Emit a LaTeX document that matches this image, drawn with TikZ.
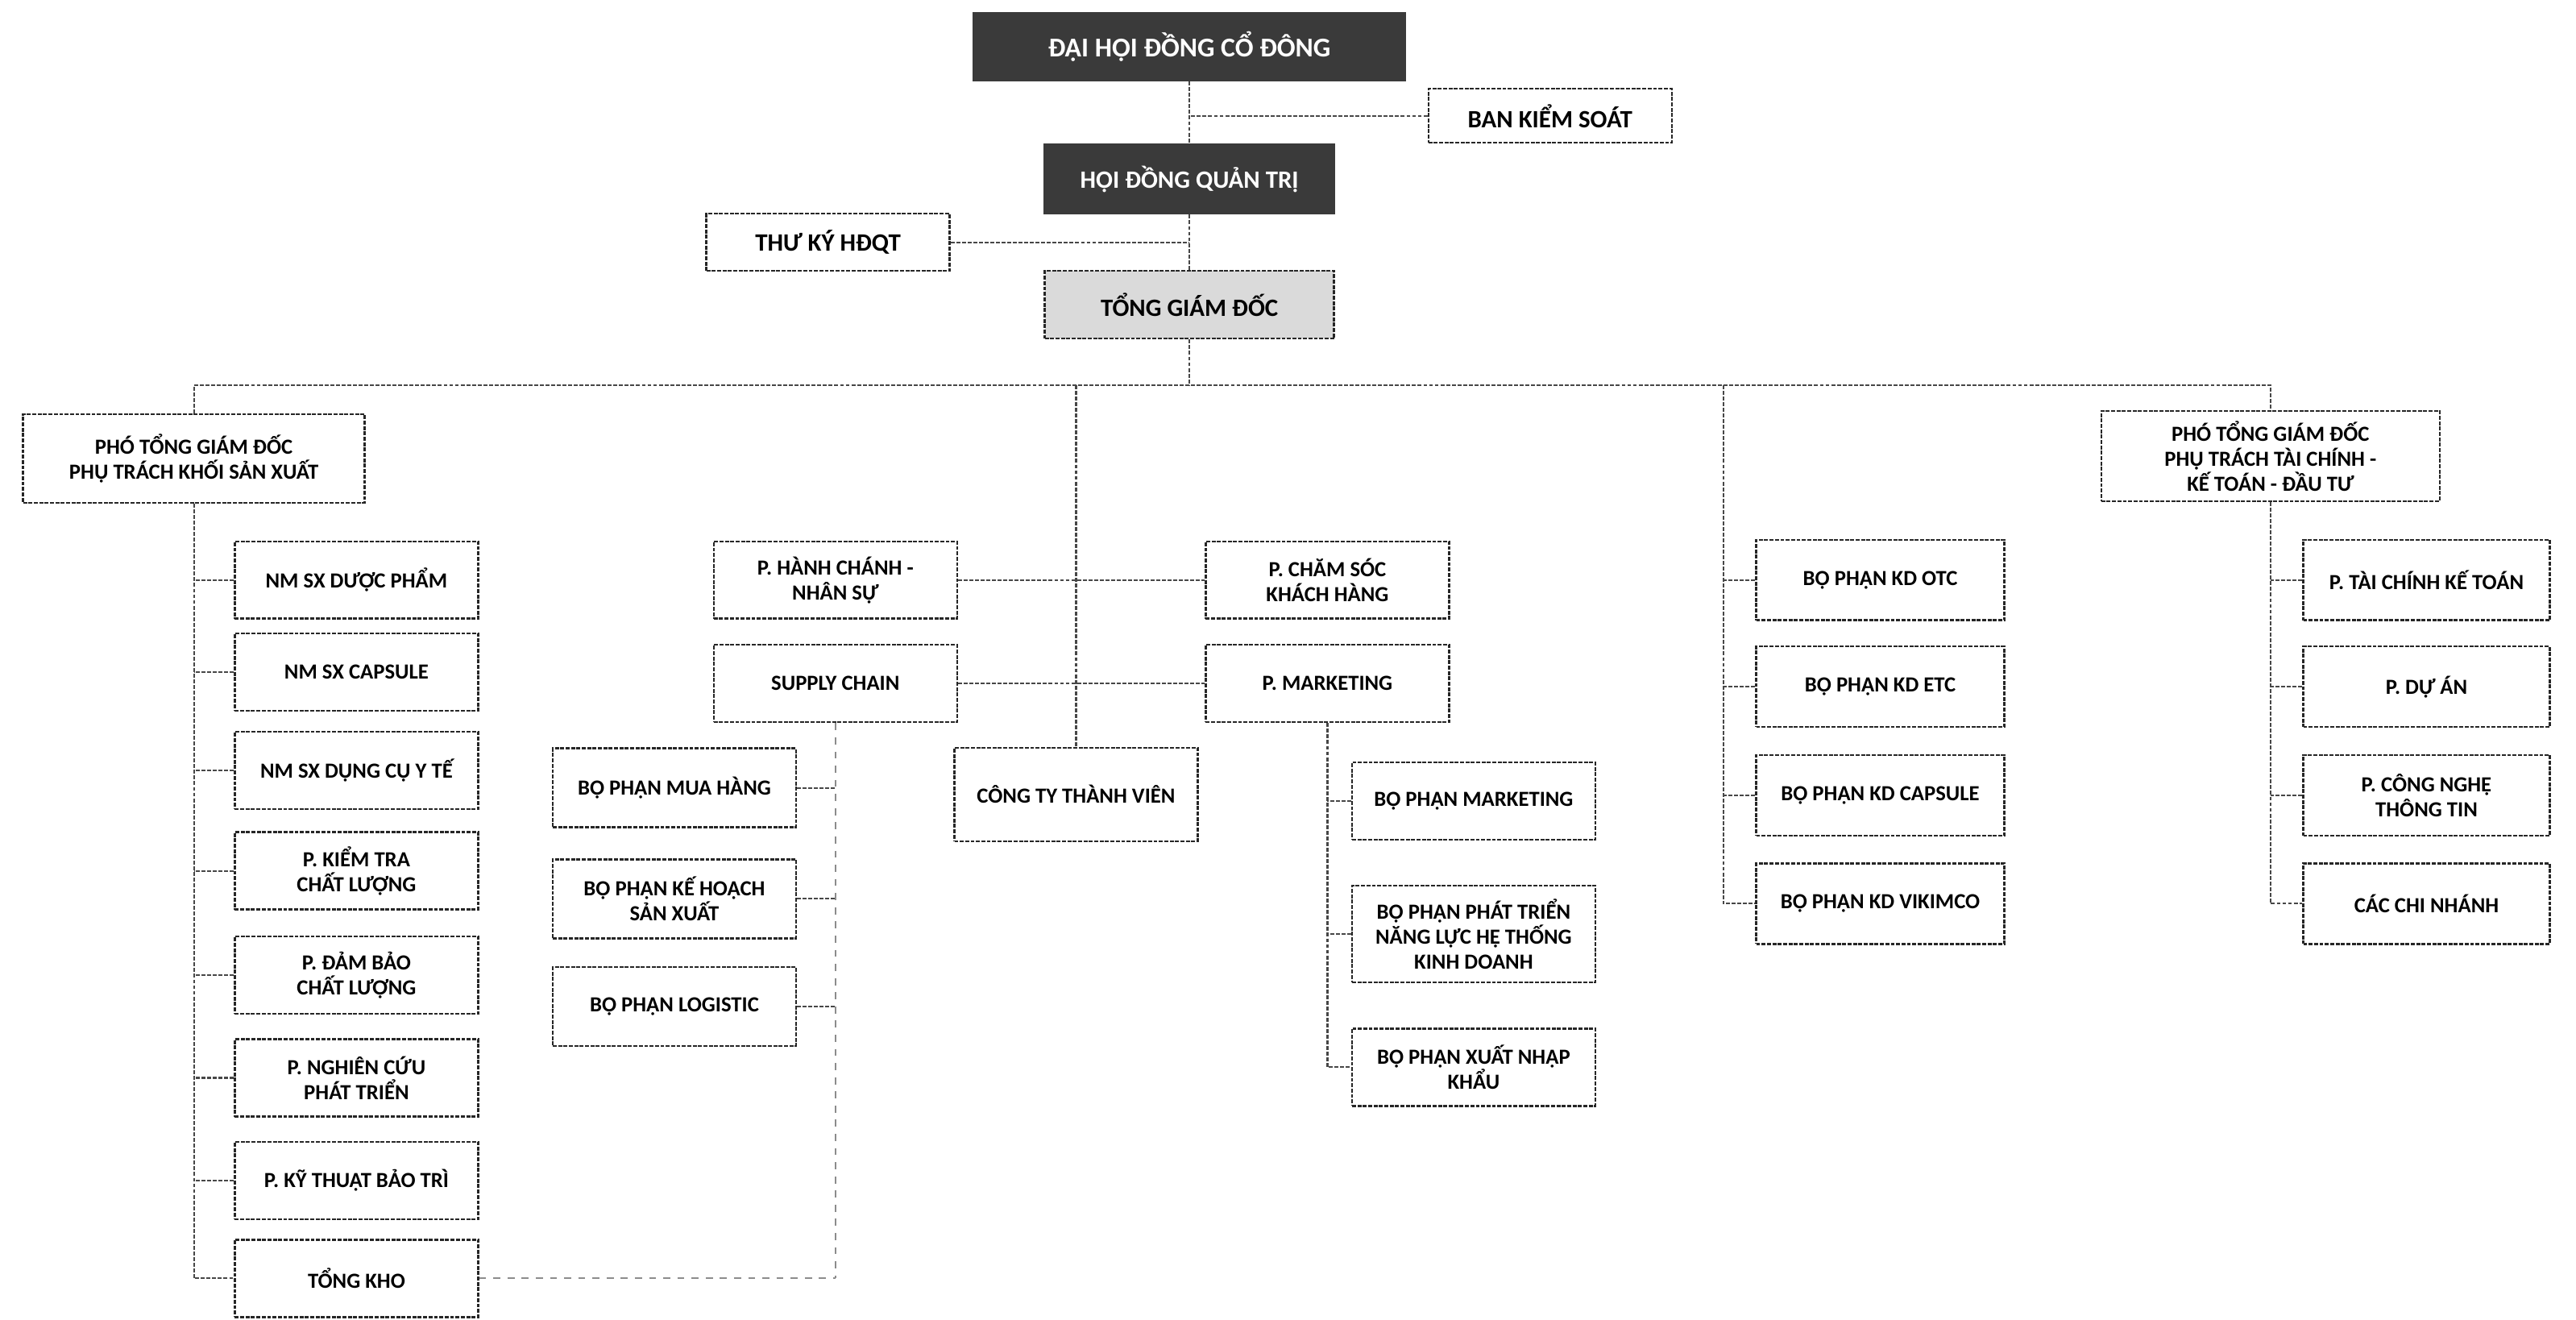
\documentclass[tikz,border=0pt]{standalone}
\usepackage{fontspec}
\setmainfont{Carlito}
\usepackage{tikz}
\usetikzlibrary{calc, positioning}
\definecolor{boardgray}{RGB}{58, 58, 58}
\definecolor{ceogray}{RGB}{218, 218, 218}
\newcommand{\unitfont}{\bfseries\fontsize{7.6}{8.8}\selectfont}
\newcommand{\headfont}{\bfseries\fontsize{8.8}{10}\selectfont}

\begin{document}
\begin{tikzpicture}[
    x=0.2039mm, y=-0.2039mm,
    box/.style={draw=black!85, line width=0.7pt, dash pattern=on 1.4pt off 0.5pt, fill=white,
        minimum width=30.2mm, minimum height=9.6mm, align=center, inner sep=1pt, font=\unitfont},
    headbox/.style={box, font=\headfont},
    darkbox/.style={headbox, draw=boardgray, solid, fill=boardgray, text=white},
    link/.style={draw=black!72, line width=0.6pt, dash pattern=on 1.4pt off 0.6pt},
    faintlink/.style={draw=black!45, line width=0.6pt, dash pattern=on 2.5pt off 2.5pt}
]
    \useasboundingbox (0,0) rectangle (1568,803);

    % top of the chart
    \node[darkbox, minimum width=53.6mm, minimum height=8.4mm, font=\bfseries\fontsize{9.6}{11}\selectfont] (dhdcd) at (724, 28.5) {ĐẠI HỘI ĐỒNG CỔ ĐÔNG};
    \node[headbox, minimum height=6.7mm] (bks) at (943.5, 70.5) {BAN KIỂM SOÁT};
    \node[darkbox, minimum width=35.9mm, minimum height=8.6mm] (hdqt) at (724, 109) {HỘI ĐỒNG QUẢN TRỊ};
    \node[headbox, minimum height=7.1mm] (tk) at (504, 147.5) {THƯ KÝ HĐQT};
    \node[headbox, fill=ceogray, minimum width=35.9mm, minimum height=8.4mm] (tgd) at (724, 185.5) {TỔNG GIÁM ĐỐC};

    \draw[link] (dhdcd) -- (hdqt);
    \draw[link] (hdqt) -- (tgd);
    \draw[link] (bks.west) -- (bks.west -| dhdcd.south);
    \draw[link] (tk.east) -- (tk.east -| hdqt.south);

    % deputies
    \node[box, minimum width=42.4mm, minimum height=11mm] (ptgdsx) at (118, 279) {PHÓ TỔNG GIÁM ĐỐC\\PHỤ TRÁCH KHỐI SẢN XUẤT};
    \node[box, minimum width=42mm, minimum height=11.2mm] (ptgdtc) at (1382, 277.5) {PHÓ TỔNG GIÁM ĐỐC\\PHỤ TRÁCH TÀI CHÍNH -\\KẾ TOÁN - ĐẦU TƯ};

    \coordinate (busl) at (118, 234.5);
    \coordinate (busr) at (1382, 234.5);
    \coordinate (kdtop) at (1049, 234.5);
    \draw[link] (ptgdsx.north) -- (busl) -- (busr) -- (ptgdtc.north);
    \draw[link] (tgd.south) -- (tgd.south |- busl);

    % production block
    \node[box] (sx1) at (217, 353) {NM SX DƯỢC PHẨM};
    \node[box] (sx2) at (217, 409) {NM SX CAPSULE};
    \node[box] (sx3) at (217, 469) {NM SX DỤNG CỤ Y TẾ};
    \node[box] (sx4) at (217, 530) {P. KIỂM TRA\\CHẤT LƯỢNG};
    \node[box] (sx5) at (217, 593.5) {P. ĐẢM BẢO\\CHẤT LƯỢNG};
    \node[box] (sx6) at (217, 656) {P. NGHIÊN CỨU\\PHÁT TRIỂN};
    \node[box] (sx7) at (217, 718.5) {P. KỸ THUẬT BẢO TRÌ};
    \node[box] (sx8) at (217, 778) {TỔNG KHO};

    \draw[link] (ptgdsx.south) |- (sx8.west);
    \foreach \i in {1,...,7}
        \draw[link] (sx\i.west) -- (sx\i.west -| ptgdsx.south);

    % central departments
    \node[box] (hcns) at (508.5, 353) {P. HÀNH CHÁNH -\\NHÂN SỰ};
    \node[box] (sc) at (508.5, 416) {SUPPLY CHAIN};
    \node[box] (csk) at (808, 353) {P. CHĂM SÓC\\KHÁCH HÀNG};
    \node[box] (mkt) at (808, 416) {P. MARKETING};
    \node[box, minimum height=11.6mm] (cttv) at (655, 483.5) {CÔNG TY THÀNH VIÊN};

    \draw[link] (cttv.north |- busl) -- (cttv.north);
    \draw[link] (hcns.east) -- (csk.west);
    \draw[link] (sc.east) -- (mkt.west);

    % supply chain units
    \node[box, minimum height=9.8mm] (mh) at (410.5, 479.5) {BỘ PHẬN MUA HÀNG};
    \node[box, minimum height=9.8mm] (khsx) at (410.5, 547) {BỘ PHẬN KẾ HOẠCH\\SẢN XUẤT};
    \node[box, minimum height=9.8mm] (lg) at (410.5, 612.5) {BỘ PHẬN LOGISTIC};

    \draw[faintlink] (sc.south) -- (sc.south |- sx8.east);
    \draw[faintlink] (sx8.east) -- (sx8.east -| sc.south);
    \foreach \u in {mh, khsx, lg}
        \draw[link] (\u.east) -- (\u.east -| sc.south);

    % marketing units
    \node[box] (bpm) at (897, 487.5) {BỘ PHẬN MARKETING};
    \node[box, minimum height=12mm] (ptr) at (897, 568.5) {BỘ PHẬN PHÁT TRIỂN\\NĂNG LỰC HỆ THỐNG\\KINH DOANH};
    \node[box] (xnk) at (897, 649.5) {BỘ PHẬN XUẤT NHẬP\\KHẨU};

    \draw[link] (mkt.south) |- (xnk.west);
    \foreach \u in {bpm, ptr}
        \draw[link] (\u.west) -- (\u.west -| mkt.south);

    % sales units
    \node[box, minimum width=30.8mm, minimum height=10mm] (kd1) at (1144.5, 353) {BỘ PHẬN KD OTC};
    \node[box, minimum width=30.8mm, minimum height=10mm] (kd2) at (1144.5, 418) {BỘ PHẬN KD ETC};
    \node[box, minimum width=30.8mm, minimum height=10mm] (kd3) at (1144.5, 484) {BỘ PHẬN KD CAPSULE};
    \node[box, minimum width=30.8mm, minimum height=10mm] (kd4) at (1144.5, 550) {BỘ PHẬN KD VIKIMCO};

    \draw[link] (kdtop) |- (kd4.west);
    \foreach \i in {1,2,3}
        \draw[link] (kd\i.west) -- (kd\i.west -| kdtop);

    % finance units
    \node[box, minimum width=30.6mm, minimum height=10mm] (tc1) at (1477, 353) {P. TÀI CHÍNH KẾ TOÁN};
    \node[box, minimum width=30.6mm, minimum height=10mm] (tc2) at (1477, 418) {P. DỰ ÁN};
    \node[box, minimum width=30.6mm, minimum height=10mm] (tc3) at (1477, 484) {P. CÔNG NGHỆ\\THÔNG TIN};
    \node[box, minimum width=30.6mm, minimum height=10mm] (tc4) at (1477, 550) {CÁC CHI NHÁNH};

    \draw[link] (ptgdtc.south) |- (tc4.west);
    \foreach \i in {1,2,3}
        \draw[link] (tc\i.west) -- (tc\i.west -| ptgdtc.south);
\end{tikzpicture}
\end{document}
